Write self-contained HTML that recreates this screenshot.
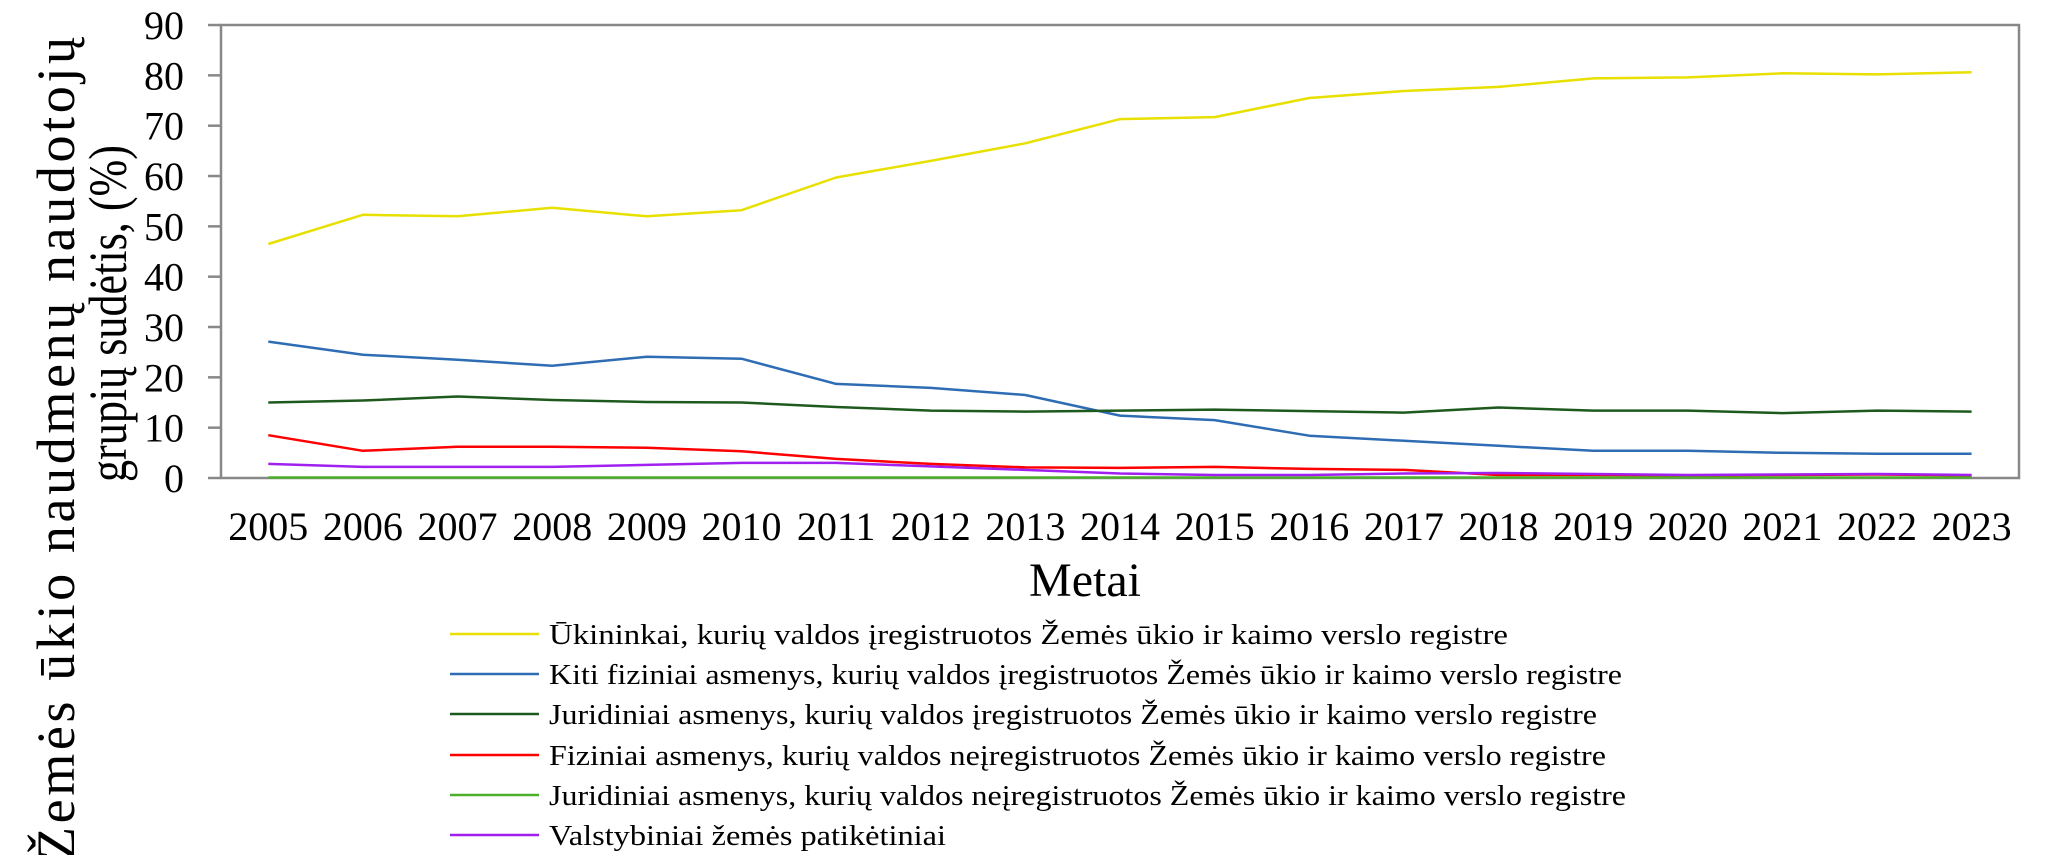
<!DOCTYPE html>
<html><head><meta charset="utf-8"><style>
html,body{margin:0;padding:0;background:#fff}
svg{display:block}
text{font-family:"Liberation Serif",serif;fill:#000}
</style></head><body>
<svg id="c" width="2069" height="855" viewBox="0 0 2069 855" xmlns="http://www.w3.org/2000/svg">
<rect x="221" y="25" width="1798" height="453" fill="none" stroke="#888" stroke-width="2.5"/>
<g id="ticks" stroke="#888" stroke-width="2.5"></g>
<g id="ylab" font-size="40" text-anchor="end"></g>
<g id="xlab" font-size="40" text-anchor="middle"></g>
<g id="series" fill="none" stroke-width="2.5" stroke-linejoin="round"></g>
<text x="1085" y="596" font-size="48" text-anchor="middle">Metai</text>
<text transform="translate(74,860) rotate(-90)" font-size="54" textLength="823" lengthAdjust="spacing">Žemės ūkio naudmenų naudotojų</text>
<text transform="translate(126,145) rotate(-90)" font-size="54" text-anchor="end" textLength="337" lengthAdjust="spacingAndGlyphs">grupių sudėtis, (%)</text>
<g font-size="29">
<line x1="450" y1="634" x2="539" y2="634" stroke="#e8e000" stroke-width="2.5"/>
<text x="549" y="644" textLength="959" lengthAdjust="spacingAndGlyphs">Ūkininkai, kurių valdos įregistruotos Žemės ūkio ir kaimo verslo registre</text>
<line x1="450" y1="674" x2="539" y2="674" stroke="#2e6db4" stroke-width="2.5"/>
<text x="549" y="684" textLength="1073" lengthAdjust="spacingAndGlyphs">Kiti fiziniai asmenys, kurių valdos įregistruotos Žemės ūkio ir kaimo verslo registre</text>
<line x1="450" y1="714" x2="539" y2="714" stroke="#1e5a1e" stroke-width="2.5"/>
<text x="549" y="724" textLength="1048" lengthAdjust="spacingAndGlyphs">Juridiniai asmenys, kurių valdos įregistruotos Žemės ūkio ir kaimo verslo registre</text>
<line x1="450" y1="755" x2="539" y2="755" stroke="#ff0000" stroke-width="2.5"/>
<text x="549" y="765" textLength="1057" lengthAdjust="spacingAndGlyphs">Fiziniai asmenys, kurių valdos neįregistruotos Žemės ūkio ir kaimo verslo registre</text>
<line x1="450" y1="795" x2="539" y2="795" stroke="#4caf2a" stroke-width="2.5"/>
<text x="549" y="805" textLength="1077" lengthAdjust="spacingAndGlyphs">Juridiniai asmenys, kurių valdos neįregistruotos Žemės ūkio ir kaimo verslo registre</text>
<line x1="450" y1="835" x2="539" y2="835" stroke="#a020f0" stroke-width="2.5"/>
<text x="549" y="845" textLength="397" lengthAdjust="spacingAndGlyphs">Valstybiniai žemės patikėtiniai</text>
</g>
</svg>
<script>
var NS="http://www.w3.org/2000/svg";
function el(p,t,a,txt){var e=document.createElementNS(NS,t);for(var k in a)e.setAttribute(k,a[k]);if(txt!=null)e.textContent=txt;document.getElementById(p).appendChild(e);}
function Y(v){return 478-v*5.033;}
function X(i){return 268.3+i*94.63;}
for(var v=0;v<=90;v+=10){el("ticks","line",{x1:208,y1:Y(v),x2:221,y2:Y(v)});el("ylab","text",{x:184,y:Y(v)+14},String(v));}
for(var i=0;i<19;i++){el("xlab","text",{x:X(i),y:540},String(2005+i));}
var S=[
["#e8e000",[46.5,52.3,52,53.7,52,53.2,59.7,63,66.5,71.3,71.7,75.5,76.9,77.7,79.4,79.6,80.4,80.2,80.6]],
["#2e6db4",[27.1,24.5,23.5,22.3,24.1,23.7,18.7,17.9,16.5,12.4,11.5,8.4,7.4,6.4,5.4,5.4,5.0,4.8,4.8]],
["#1e5a1e",[15,15.4,16.2,15.5,15.1,15,14.1,13.4,13.2,13.4,13.6,13.3,13.0,14.0,13.4,13.4,12.9,13.4,13.2]],
["#ff0000",[8.5,5.4,6.2,6.2,6.0,5.3,3.8,2.8,2.1,2.0,2.2,1.8,1.6,0.6,0.6,0.5,0.6,0.7,0.5]],
["#4caf2a",[0.1,0.1,0.1,0.1,0.1,0.1,0.1,0.1,0.1,0.1,0.1,0.1,0.1,0.1,0.1,0.1,0.1,0.1,0.1]],
["#a020f0",[2.8,2.2,2.2,2.2,2.6,3.0,3.0,2.3,1.6,0.9,0.6,0.6,0.9,1.0,0.8,0.6,0.7,0.8,0.6]]];
S.forEach(function(s){var p=s[1].map(function(v,i){return X(i).toFixed(1)+","+Y(v).toFixed(1);}).join(" ");el("series","polyline",{points:p,stroke:s[0]});});
</script>
</body></html>
